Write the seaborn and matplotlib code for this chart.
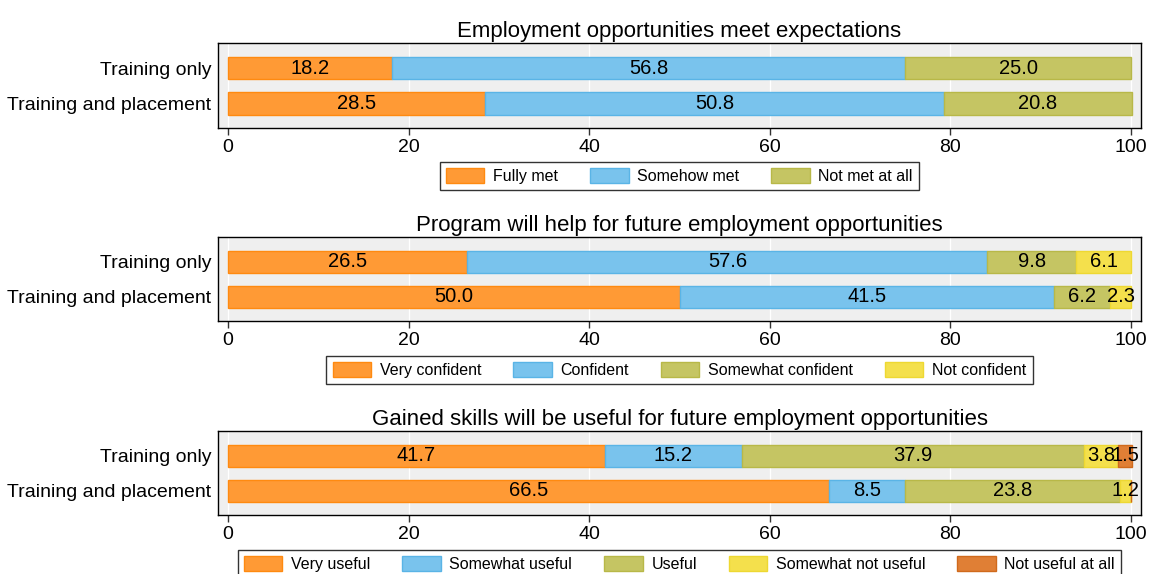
import numpy as np
import pandas as pd
import matplotlib
matplotlib.use("Agg")
import matplotlib.pyplot as plt
from matplotlib.patches import Patch
import seaborn as sns

sns.set_theme(style="white")
plt.rcParams['font.family'] = ['Liberation Sans', 'DejaVu Sans']
plt.rcParams['text.color'] = 'black'
plt.rcParams['xtick.color'] = 'black'
plt.rcParams['ytick.color'] = 'black'

groups = ["Training only", "Training and placement"]

titles = [
    "Employment opportunities meet expectations",
    "Program will help for future employment opportunities",
    "Gained skills will be useful for future employment opportunities",
]

cats1 = ["Fully met", "Somehow met", "Not met at all"]
vals1_training_only = [18.2, 56.8, 25.0]
vals1_training_placement = [28.5, 50.8, 20.8]

cats2 = ["Very confident", "Confident", "Somewhat confident", "Not confident"]
vals2_training_only = [26.5, 57.6, 9.8, 6.1]
vals2_training_placement = [50.0, 41.5, 6.2, 2.3]

cats3 = ["Very useful", "Somewhat useful", "Useful", "Somewhat not useful", "Not useful at all"]
vals3_training_only = [41.7, 15.2, 37.9, 3.8, 1.5]
vals3_training_placement = [66.5, 8.5, 23.8, 1.2, 0.0]

fills = ["#FF9A35", "#79C3ED", "#C5C563", "#F4E04C", "#E07F35"]
edges = ["#FF8A10", "#5AB4E6", "#B8B848", "#EED832", "#D06A1C"]

panels = [
    (titles[0], cats1, vals1_training_only, vals1_training_placement),
    (titles[1], cats2, vals2_training_only, vals2_training_placement),
    (titles[2], cats3, vals3_training_only, vals3_training_placement),
]

W, H = 1149, 574
fig = plt.figure(figsize=(W / 100, H / 100), dpi=100)

ax_left, ax_right = 218, 1141
tops = [43, 237, 431]
bottoms = [128, 321, 515]
legend_tops = [162, 356, 550]

for (title, cats, v_to, v_tp), top, bot, ltop in zip(panels, tops, bottoms, legend_tops):
    ax = fig.add_axes([ax_left / W, 1 - bot / H, (ax_right - ax_left) / W, (bot - top) / H])
    ax.set_facecolor("#EFEFEF")
    for xv in range(0, 101, 20):
        ax.axvline(xv, color="white", lw=0.9, zorder=0)
    left = np.zeros(2)
    for i, cat in enumerate(cats):
        vals = np.array([v_to[i], v_tp[i]])
        df = pd.DataFrame({"group": groups, "value": vals})
        sns.barplot(data=df, x="value", y="group", order=groups, left=left,
                    color=fills[i], edgecolor=edges[i], linewidth=1.0,
                    width=0.63, ax=ax, saturation=1, zorder=2)
        for j in range(2):
            if vals[j] > 0:
                ax.text(left[j] + vals[j] / 2, j, f"{vals[j]:.1f}", ha="center", va="center",
                        fontsize=14.5, color="black", zorder=5)
        left = left + vals
    ax.set_xlim(-1.1, 101.1)
    ax.set_ylim(1.69, -0.71)
    ax.set_xticks(range(0, 101, 20))
    ax.set_xlabel("")
    ax.set_ylabel("")
    ax.tick_params(axis="x", bottom=True, length=5, width=1, color="#333333", labelsize=14, pad=3)
    ax.tick_params(axis="y", left=False, length=0, labelsize=14, pad=5)
    for s in ax.spines.values():
        s.set_visible(True)
        s.set_color("black")
        s.set_linewidth(1.0)
    ax.set_title(title, fontsize=16, pad=4, color="black")
    handles = [Patch(facecolor=fills[i], edgecolor=edges[i], label=c) for i, c in enumerate(cats)]
    leg = ax.legend(handles=handles, loc="upper center",
                    bbox_to_anchor=(((ax_left + ax_right) / 2) / W, 1 - ltop / H),
                    bbox_transform=fig.transFigure, ncol=len(cats), frameon=True,
                    fontsize=11.5, handlelength=2.4, handleheight=1.0, handletextpad=0.55,
                    columnspacing=2.0, borderpad=0.4, borderaxespad=0, fancybox=False)
    leg.get_frame().set_edgecolor("black")
    leg.get_frame().set_linewidth(1.0)

fig.savefig("out.png", dpi=100)
